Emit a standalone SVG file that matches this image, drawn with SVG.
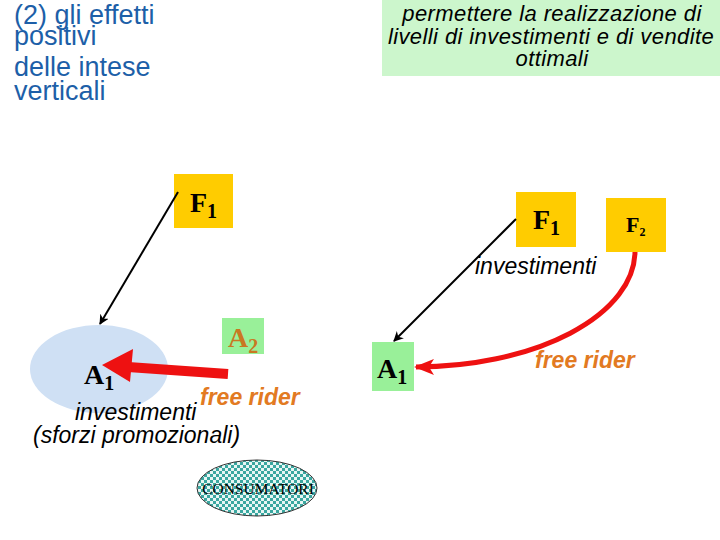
<svg xmlns="http://www.w3.org/2000/svg" width="720" height="540" viewBox="0 0 720 540">
<style>
.title{font-family:"Liberation Sans",Arial,sans-serif;font-size:27px;fill:#1d5fa8}
.it{font-family:"Liberation Sans",Arial,sans-serif;font-style:italic;font-size:23px;fill:#000}
.box{font-size:22px;letter-spacing:0.4px}
.fr{font-family:"Liberation Sans",Arial,sans-serif;font-style:italic;font-weight:bold;font-size:23px;fill:#e27a22}
.lab{font-family:"Liberation Serif","Times New Roman",serif;font-weight:bold;font-size:28px;fill:#000}
.sub{font-size:20px}
.yel{fill:#ffcc00}
.grn{fill:#99f099}
.blk{stroke:#000;stroke-width:2;fill:none}
.red{stroke:#ee1111;fill:none}
</style>
<defs>
<marker id="ah" markerWidth="10" markerHeight="10" refX="9" refY="5" orient="auto" markerUnits="userSpaceOnUse">
<path d="M0,0 L10,5 L0,10 L3,5 Z" fill="#000"/>
</marker>
<marker id="rh" markerWidth="20" markerHeight="16" refX="18" refY="8" orient="auto" markerUnits="userSpaceOnUse">
<path d="M0,0 L20,8 L0,16 L5,8 Z" fill="#ee1111"/>
</marker>
<pattern id="chk" width="6" height="6" patternUnits="userSpaceOnUse">
<rect width="6" height="6" fill="#e8f6f4"/>
<rect width="3" height="3" fill="#3aa7a0"/>
<rect x="3" y="3" width="3" height="3" fill="#3aa7a0"/>
</pattern>
</defs>

<g id="title">
<text class="title" x="14" y="24">(2) gli effetti</text>
<text class="title" x="14" y="45">positivi</text>
<text class="title" x="14" y="76">delle intese</text>
<text class="title" x="14" y="100">verticali</text>
</g>

<g id="goal">
<rect x="382" y="0" width="338" height="76" fill="#ccf6cc"/>
<text class="it box" x="552" y="21" text-anchor="middle">permettere la realizzazione di</text>
<text class="it box" x="551" y="44" text-anchor="middle">livelli di investimenti e di vendite</text>
<text class="it box" x="552" y="66" text-anchor="middle">ottimali</text>
</g>

<g id="F1-left">
<rect class="yel" x="174" y="174" width="59" height="54"/>
<text class="lab" x="190" y="212">F<tspan class="sub" dy="6">1</tspan></text>
</g>

<g id="A1-left">
<ellipse cx="99" cy="369" rx="69" ry="44" fill="#cfe0f4"/>
<text class="lab" x="84" y="384">A<tspan class="sub" dy="6">1</tspan></text>
</g>

<g id="A2-left">
<rect class="grn" x="222" y="318" width="42" height="36"/>
<text class="lab" x="228" y="347" style="fill:#c97822">A<tspan class="sub" dy="6">2</tspan></text>
</g>

<g id="consumatori">
<ellipse cx="257" cy="488" rx="60" ry="28" fill="url(#chk)" stroke="#333" stroke-width="1"/>
<text x="258" y="494" text-anchor="middle" font-family="Liberation Serif,Times New Roman,serif" font-size="15.5" fill="#000">CONSUMATORI</text>
</g>

<g id="F1-right">
<rect class="yel" x="516" y="192" width="60" height="55"/>
<text class="lab" x="533" y="229">F<tspan class="sub" dy="6">1</tspan></text>
</g>

<g id="F2-right">
<rect class="yel" x="606" y="198" width="60" height="54"/>
<text x="626" y="232" font-family="Liberation Serif,Times New Roman,serif" font-weight="bold" font-size="22" fill="#000">F<tspan font-size="12" dy="4">2</tspan></text>
</g>

<g id="A1-right">
<rect class="grn" x="372" y="342" width="42" height="49"/>
<text class="lab" x="377" y="378">A<tspan class="sub" dy="6">1</tspan></text>
</g>

<g id="connectors">
<line class="blk" x1="178" y1="192" x2="100" y2="324" marker-end="url(#ah)"/>
<line class="blk" x1="516" y1="219" x2="394" y2="341" marker-end="url(#ah)"/>
<line class="red" x1="228" y1="374" x2="128" y2="367" stroke-width="10"/>
<path d="M102,365 L133,349 L130,382 Z" fill="#ee1111"/>
<path class="red" d="M635,252 A220 116 0 0 1 416,367" stroke-width="5" marker-end="url(#rh)"/>
</g>

<g id="labels">
<text class="fr" x="200" y="405">free rider</text>
<text class="it" x="75" y="420">investimenti</text>
<text class="it" x="33" y="443">(sforzi promozionali)</text>
<text class="it" x="475" y="274">investimenti</text>
<text class="fr" x="535" y="368">free rider</text>
</g>
</svg>
